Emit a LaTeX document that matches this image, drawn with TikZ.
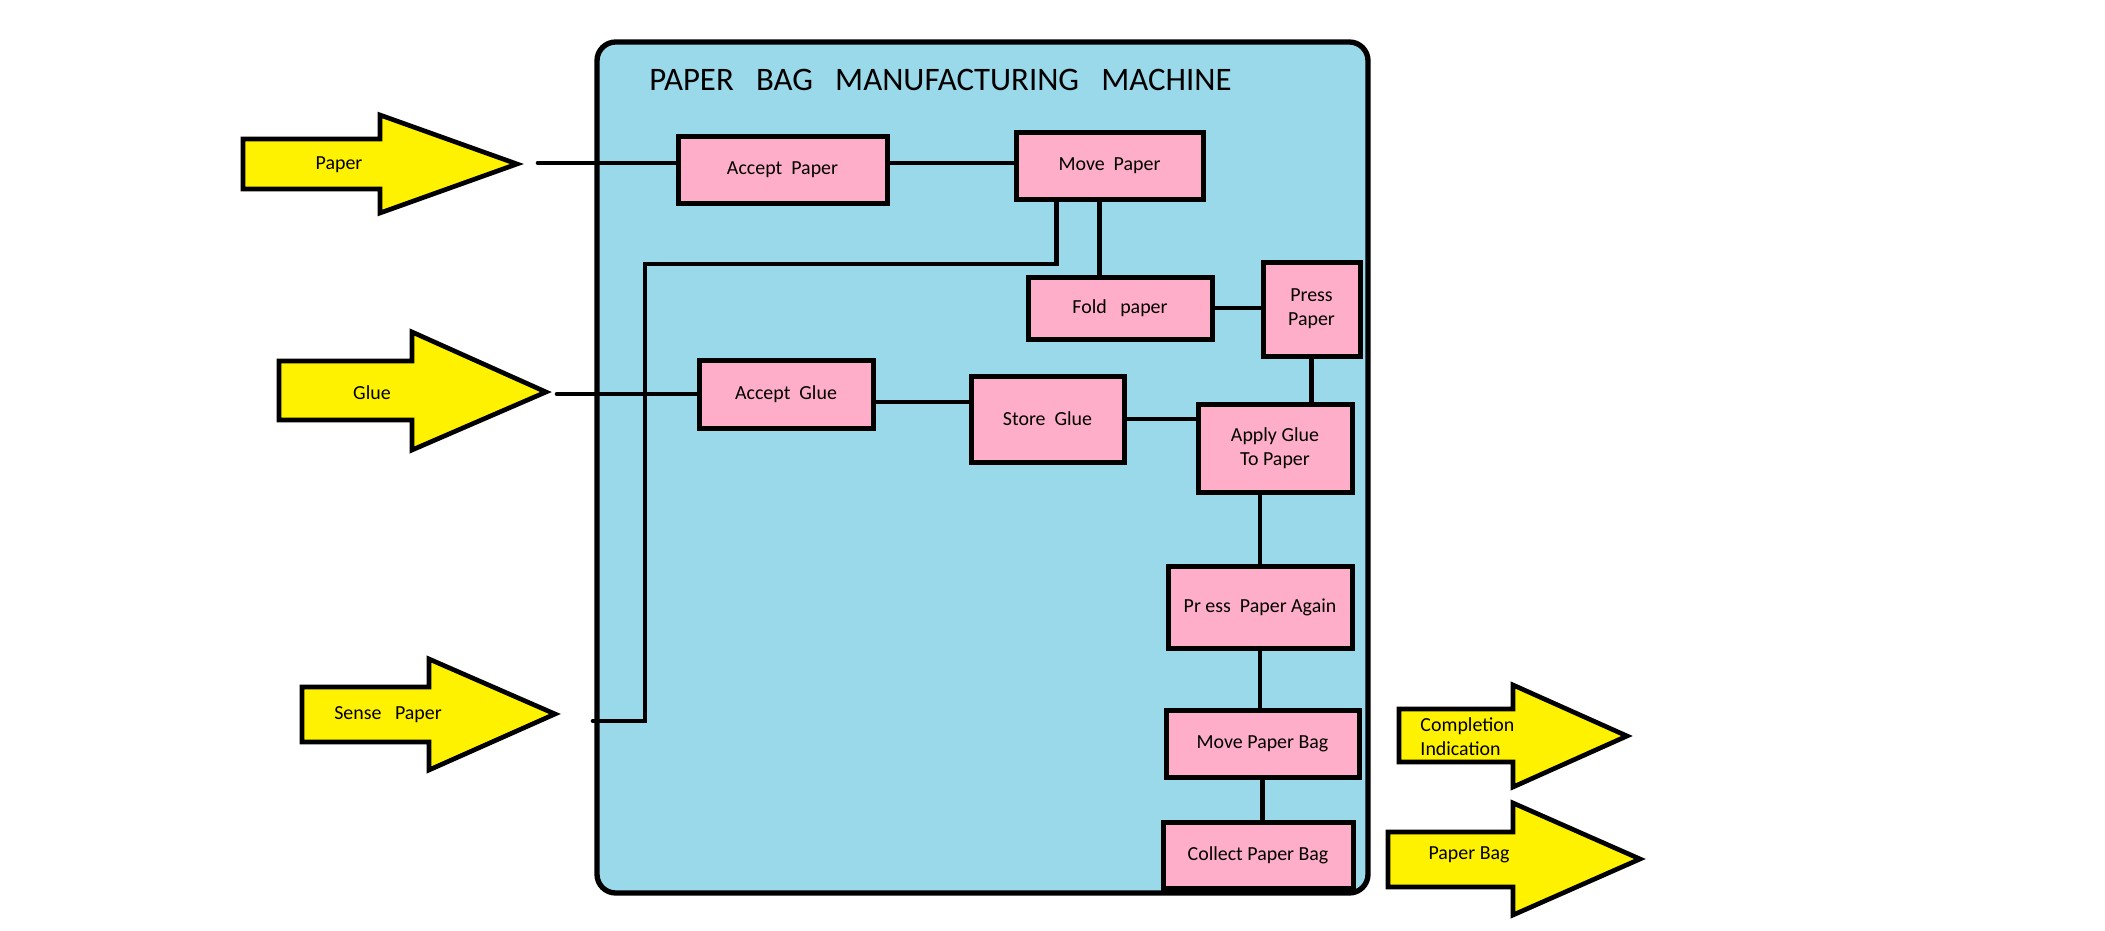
\documentclass[tikz,border=0pt]{standalone}
\usepackage{fontspec}
\setmainfont{Carlito}
\usepackage{xcolor}
\usepackage{tikz}
\usetikzlibrary{
	calc,
}
\definecolor{machineblue}{rgb}{0.60, 0.851, 0.918}
\definecolor{stagepink}{rgb}{1.0, 0.682, 0.788}
\definecolor{feedyellow}{rgb}{1.0, 0.949, 0.0}

\tikzset{
	stagebox/.style 2 args={draw, fill=stagepink, line width=0.75mm, inner sep=0pt, align=center,
		minimum width=#1*0.15mm, minimum height=#2*0.15mm, font=\fontsize{8.5}{10.2}\selectfont},
	feed/.style={draw, fill=feedyellow, line width=0.7mm},
	feedtext/.style={inner sep=0pt, font=\fontsize{8.5}{10.2}\selectfont},
	wire/.style={line width=0.7mm, line cap=round},
}

\begin{document}
\begin{tikzpicture}[x=0.15mm, y=-0.15mm]
\useasboundingbox (0,0) rectangle (2105,931);

% input arrows
\draw[feed] (243,139) -- (380,139) -- (380,115) -- (517,164) -- (380,213) -- (380,189) -- (243,189) -- cycle;
\node[feedtext] (paperlbl) at (339,165) {Paper};
\draw[feed] (279,361) -- (412,361) -- (412,332) -- (546,392) -- (412,450) -- (412,420) -- (279,420) -- cycle;
\node[feedtext] (gluelbl) at (372,393) {Glue};
\draw[feed] (302,687) -- (429,687) -- (429,659) -- (555,714) -- (429,770) -- (429,742) -- (302,742) -- cycle;
\node[feedtext] (senselbl) at (388,715) {Sense~~ Paper};

% machine
\draw[fill=machineblue, line width=0.8mm, rounded corners=2.8mm] (597,42) rectangle (1368,893);
\node[anchor=base west, inner sep=0pt, font=\fontsize{14}{17}\selectfont] (title) at (649,91)
	{PAPER~~ BAG~~ MANUFACTURING~~ MACHINE};

% stages
\node[stagebox={209}{66}] (acceptpaper) at (782.5,170) {Accept~ Paper};
\node[stagebox={187}{66}] (movepaper) at (1109.5,166) {Move~ Paper};
\node[stagebox={184}{62}] (foldpaper) at (1120,308) {Fold~~ paper};
\node[stagebox={97}{94}] (presspaper) at (1311.5,309) {Press\\Paper};
\node[stagebox={174}{68}] (acceptglue) at (786,394) {Accept~ Glue};
\node[stagebox={153}{86}] (storeglue) at (1047.5,419) {Store~ Glue};
\node[stagebox={154}{88}] (applyglue) at (1275,448) {Apply Glue\\To Paper};
\node[stagebox={184}{82}] (pressagain) at (1260,607) {Pr ess~ Paper Again};
\node[stagebox={193}{67}] (movebag) at (1262.5,743.5) {Move Paper Bag};
\node[stagebox={190}{66}] (collectbag) at (1258,855) {Collect Paper Bag};

% free ends
\coordinate (paperin) at (538,163);
\coordinate (gluein) at (557,394);
\coordinate (sensein) at (593,721);
\coordinate (sensebend) at (645,264);
\coordinate (foldtap) at ($(movepaper.south)+(-10,0)$);
\coordinate (storetap) at ($(storeglue.west)+(0,-17)$);

% paper path
\draw[wire] (paperin) -- (paperin -| acceptpaper.west);
\draw[wire] (acceptpaper.east |- paperin) -- (movepaper.west |- paperin);
\draw[wire] (foldtap) -- (foldtap |- foldpaper.north);
\draw[wire] (foldpaper.east) -- (foldpaper.east -| presspaper.west);
\draw[wire] (presspaper.south) -- (presspaper.south |- applyglue.north);

% glue path
\draw[wire] (gluein) -- (gluein -| acceptglue.west);
\draw[wire] (acceptglue.east |- storetap) -- (storetap);
\draw[wire] (storeglue.east) -- (storeglue.east -| applyglue.west);

% sensor
\draw[wire] (sensein) -| (sensebend) -| ($(movepaper.south)+(-53,0)$);

% finishing
\draw[wire] (applyglue.south -| pressagain.north) -- (pressagain.north);
\draw[wire] (pressagain.south) -- (pressagain.south |- movebag.north);
\draw[wire] (movebag.south) -- (movebag.south |- collectbag.north);

% output arrows
\draw[feed] (1399,709) -- (1513,709) -- (1513,685) -- (1627,736) -- (1513,787) -- (1513,762) -- (1399,762) -- cycle;
\node[feedtext, align=left, anchor=west] (donelbl) at (1420,737) {Completion\\Indication};
\draw[feed] (1388,832) -- (1513,832) -- (1513,803) -- (1640,859) -- (1513,915) -- (1513,887) -- (1388,887) -- cycle;
\node[feedtext] (baglbl) at (1469,855) {Paper Bag};
\end{tikzpicture}
\end{document}
